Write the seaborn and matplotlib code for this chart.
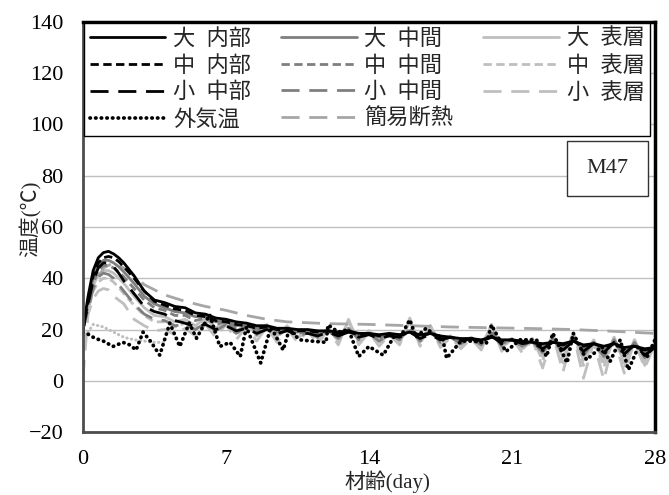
import matplotlib
matplotlib.use("Agg")
import matplotlib.pyplot as plt
from matplotlib.patches import Rectangle
import seaborn as sns

# ---- data -------------------------------------------------------------
days = [0, 0.25, 0.5, 0.75, 1, 1.25, 1.5, 1.75, 2,
        2.5, 3, 3.5, 4, 4.5, 5, 5.5, 6, 6.5, 7,
        7.5, 8, 8.5, 9, 9.5, 10, 10.5, 11, 11.5, 12,
        12.5, 13, 13.5, 14, 14.5, 15, 15.5, 16, 16.5, 17,
        17.5, 18, 18.5, 19, 19.5, 20, 20.5, 21, 21.5, 22,
        22.5, 23, 23.5, 24, 24.5, 25, 25.5, 26, 26.5, 27,
        27.5, 28]

large_inner = [20, 33, 43, 48, 50, 50.5, 49.5, 48, 46,
               41, 35, 31.5, 30.5, 29, 28.5, 26.5, 26, 24.5, 24,
               23, 22.5, 21.5, 21.5, 20.5, 20.5, 20, 20, 19.5, 19.5,
               19, 19.5, 18.5, 18.5, 18, 18.5, 18, 19, 18, 18.5,
               17.5, 17, 16.5, 16.5, 16, 17, 16, 16, 15.5, 15,
               14.5, 15, 14.5, 15.5, 14, 14.5, 13.5, 14.5, 13, 13.5,
               12.5, 13]
medium_inner = [20, 31, 41, 46, 48, 48.5, 48, 46.5, 44.5,
                40, 35, 31, 29.5, 28, 27.5, 25.5, 25, 23.5, 23,
                22, 21.5, 20.5, 21, 20, 20, 19.5, 19.5, 19, 19.5,
                18.5, 19, 18, 18.5, 17.5, 18, 17.5, 19, 17.5, 18.5,
                17, 17, 16, 16.5, 15.5, 17, 15.5, 16, 15, 15,
                14, 15, 14, 15.5, 13.5, 14.5, 13, 14.5, 12.5, 13.5,
                12, 13]
small_inner = [20, 30, 39, 44, 46, 46, 44.5, 42, 39,
               34, 29, 27, 26, 23.5, 22.5, 21, 22, 20, 21.5,
               19.5, 20.5, 18.5, 20, 18.5, 19.5, 18, 18.5, 17.5, 19,
               17.5, 19, 17, 18, 16.5, 17.5, 17, 19, 16.5, 18,
               16, 17, 15.5, 16.5, 15, 17.5, 14.5, 16, 14.5, 15,
               12.5, 15, 12, 15.5, 11.5, 14.5, 11, 15, 10.5, 14,
               10, 13]
large_mid = [20, 31, 40, 45, 47, 47, 46, 44.5, 42.5,
             38, 33, 30, 28.5, 27, 26.5, 25, 25.5, 23, 23.5,
             21.5, 22, 20.5, 21, 19.5, 20.5, 19, 19.5, 18.5, 19.5,
             18, 19.5, 17.5, 18.5, 17, 18, 17, 19.5, 17, 18.5,
             16.5, 17, 16, 16.5, 15.5, 18, 15, 16, 15, 15,
             13.5, 15.5, 13, 16, 12.5, 15, 12, 15, 11.5, 14,
             11, 13.5]
medium_mid = [20, 29.5, 38, 43, 45, 45, 44, 42.5, 40.5,
              36, 31.5, 28.5, 27.5, 25.5, 25.5, 23.5, 24.5, 22, 23,
              20.5, 21.5, 19.5, 21, 19, 20.5, 18.5, 19.5, 18, 19.5,
              17.5, 20, 17, 18.5, 16.5, 18, 16.5, 20, 16.5, 19,
              16, 17, 15.5, 16.5, 15, 18.5, 14.5, 16, 14.5, 15,
              12.5, 16, 12, 16.5, 11.5, 15, 11, 15.5, 10.5, 14.5,
              10, 14]
small_mid = [20, 28, 36, 40.5, 42, 41.5, 40, 37.5, 35,
             30, 26, 24, 23.5, 21.5, 22, 20, 22.5, 19.5, 22,
             18.5, 21, 18, 20.5, 17.5, 20, 17, 19, 17, 19.5,
             16.5, 20.5, 16, 18.5, 15.5, 18, 16, 21, 15.5, 19.5,
             15, 17, 14.5, 16.5, 14, 19.5, 13.5, 16, 13.5, 15.5,
             11, 16.5, 10.5, 17, 10, 15, 9.5, 16, 9, 15,
             9, 14.5]
large_surf = [20, 29, 37, 41.5, 43, 43, 42, 40, 38,
              33, 28.5, 25.5, 25, 23, 24, 21.5, 24.5, 20.5, 23.5,
              19, 22.5, 18, 22, 17.5, 21.5, 17, 20, 16.5, 20.5,
              16, 23, 15.5, 19.5, 15, 18.5, 15.5, 23, 15, 21.5,
              14.5, 17.5, 14, 17, 13.5, 21.5, 13, 16.5, 12.5, 16.5,
              9.5, 18, 9, 18.5, 8, 16, 7.5, 17, 7, 16,
              7.5, 15]
medium_surf = [20, 27.5, 35, 38.5, 40, 40, 38.5, 36.5, 34,
               29.5, 25.5, 23, 23, 21, 22.5, 20, 23.5, 19.5, 23,
               18, 22, 17.5, 21.5, 17, 21, 16.5, 20, 16, 20.5,
               15.5, 23.5, 15, 19.5, 14.5, 18.5, 15, 23.5, 14.5, 21.5,
               14, 17.5, 13.5, 17, 13, 22, 12.5, 16.5, 12, 16.5,
               8, 18, 7, 18.5, 6, 16, 5.5, 17, 5, 16,
               6, 15]
small_surf = [1, 26, 32, 35, 36, 35.5, 33, 31.5, 30,
              24, 21.5, 19.5, 20, 18, 20.5, 17.5, 22, 17, 22,
              16, 21, 15.5, 21, 15, 20.5, 15, 19.5, 14.5, 20,
              14, 24, 14, 19, 13.5, 18, 14, 24.5, 13.5, 21.5,
              13, 17, 12.5, 16.5, 12, 22, 11.5, 16.5, 11, 16,
              5, 18, 3.5, 18.5, 1, 15, 0.5, 16.5, 3, 15.5,
              5, 14.5]

# simple-insulation reference curve
ins_days = [0, 0.5, 1, 1.5, 2, 2.5, 3, 4, 5, 6, 7, 8, 9, 10,
            12, 14, 16, 18, 20, 22, 24, 26, 28]
ins_temp = [20, 36, 44, 46, 44, 41, 37.5, 33.5, 31, 29, 27.5, 25.5, 24, 23,
            22.3, 22, 21.5, 21, 20.7, 20.4, 20, 19.3, 18.5]

# outside air temperature
air_days = [0, 0.3, 0.5, 0.8, 1.0, 1.47, 1.96, 2.3, 2.6, 2.94, 3.3, 3.76,
            4.25, 4.74, 5.2, 5.56, 6.2, 6.7, 7.2, 7.7, 8.0, 8.7, 9.2, 9.8,
            10.1, 10.6, 11.2, 11.9, 12.0, 12.5, 13, 13.5, 14, 14.7, 15.2,
            15.6, 16, 16.3, 16.8, 17.2, 17.6, 17.8, 18.5, 19.1, 19.75, 20,
            20.7, 21.4, 22.2, 22.7, 23, 23.7, 24, 24.65, 25.4, 25.8, 26.3,
            26.7, 27.2, 27.6, 28]
air_temp = [19, 18, 17, 16, 15.5, 13.4, 15, 14, 12, 19, 15.5, 10,
            22.5, 13.4, 22.5, 16.6, 25.8, 13.4, 15, 9.5, 21, 7, 21, 12,
            20, 16, 15.5, 15, 21.8, 19, 20, 9.5, 13.4, 10, 17,
            18, 23.8, 17, 20.5, 18, 17, 8.8, 15.5, 15.5, 14.7, 21.8,
            11.4, 16, 16, 9.5, 18.6, 7, 18.6, 8.2, 13.4, 7.5, 16,
            4.3, 13.4, 9, 16]

# early light-grey dotted trace
early_days = [0, 0.5, 1, 1.5, 2, 2.5, 3, 3.5, 4]
early_temp = [16, 22, 21, 19, 17, 16, 15.5, 15, 15]

x_ticks = [0, 7, 14, 21, 28]
y_ticks = [-20, 0, 20, 40, 60, 80, 100, 120, 140]

# ---- styling -----------------------------------------------------------
sns.set_theme(style="white")
plt.rcParams['font.family'] = ['Liberation Serif', 'Noto Sans CJK JP']
plt.rcParams['axes.unicode_minus'] = True

BLACK, GREY, LIGHT, INS = "#000000", "#7f7f7f", "#bfbfbf", "#a6a6a6"
SOLID = "-"
SHORT = (0, (3, 1.6))
LONG = (0, (6.5, 3.5))
DOT = (0, (0.1, 1.4))

fig = plt.figure(figsize=(6.69, 4.95), dpi=100)
ax = fig.add_axes([0.124, 0.127, 0.855, 0.829])

def draw(x, y, color, ls, lw=2.0, **kw):
    sns.lineplot(x=x, y=y, ax=ax, color=color, linestyle=ls, linewidth=lw,
                 legend=False, **kw)
    return ax.lines[-1]

h = {}
h["大表層"] = draw(days, large_surf, LIGHT, SOLID)
h["中表層"] = draw(days, medium_surf, LIGHT, SHORT)
h["小表層"] = draw(days, small_surf, LIGHT, LONG)
draw(early_days, early_temp, LIGHT, DOT, lw=2.2, dash_capstyle="round")
h["簡易断熱"] = draw(ins_days, ins_temp, INS, LONG)
h["大中間"] = draw(days, large_mid, GREY, SOLID)
h["中中間"] = draw(days, medium_mid, GREY, SHORT)
h["小中間"] = draw(days, small_mid, GREY, LONG)
h["大内部"] = draw(days, large_inner, BLACK, SOLID)
h["中内部"] = draw(days, medium_inner, BLACK, SHORT)
h["小中部"] = draw(days, small_inner, BLACK, LONG)
h["外気温"] = draw(air_days, air_temp, BLACK, DOT, lw=2.7, dash_capstyle="round")

ax.set_xlim(0, 28)
ax.set_ylim(-20, 140)
ax.set_xticks(x_ticks)
ax.set_yticks(y_ticks)
ax.yaxis.grid(True, color="#c0c0c0", linewidth=1.0)
ax.set_axisbelow(True)
ax.tick_params(axis="both", direction="in", length=4, color="#808080",
               labelsize=16, colors="#000000")
ax.tick_params(axis="x", pad=13)
ax.tick_params(axis="y", pad=14)

for side in ("left", "bottom"):
    ax.spines[side].set_color("#4d4d4d")
    ax.spines[side].set_linewidth(2.0)
for side in ("top", "right"):
    ax.spines[side].set_color("#000000")
    ax.spines[side].set_linewidth(2.5)

ax.set_xlabel("材齢(day)", fontsize=15)
ax.set_ylabel("温度(℃)", fontsize=15)
ax.xaxis.set_label_coords(0.533, -0.094)
ax.yaxis.set_label_coords(-0.072, 0.52)

order = ["大内部", "中内部", "小中部", "外気温",
         "大中間", "中中間", "小中間", "簡易断熱",
         "大表層", "中表層", "小表層"]
names = {k: (k[0] + "  " + k[1:] if k not in ("外気温", "簡易断熱") else k)
         for k in order}
leg = ax.legend([h[k] for k in order], [names[k] for k in order],
                ncol=3, loc="upper left", mode="expand",
                bbox_to_anchor=(0.002, 0.72, 0.99, 0.276),
                borderaxespad=0, fontsize=16, handlelength=3.4,
                handletextpad=0.35, labelspacing=0.27, borderpad=0.25,
                frameon=True, fancybox=False, edgecolor="#000000",
                framealpha=1.0)
leg.get_frame().set_linewidth(1.0)

# specimen tag
ax.add_patch(Rectangle((0.846, 0.576), 0.1416, 0.134, transform=ax.transAxes,
                       facecolor="white", edgecolor="#333333", linewidth=1.0,
                       zorder=5))
ax.text(0.917, 0.643, "M47", transform=ax.transAxes, ha="center",
        va="center", fontsize=16, zorder=6)

fig.savefig("out.png", dpi=100)
